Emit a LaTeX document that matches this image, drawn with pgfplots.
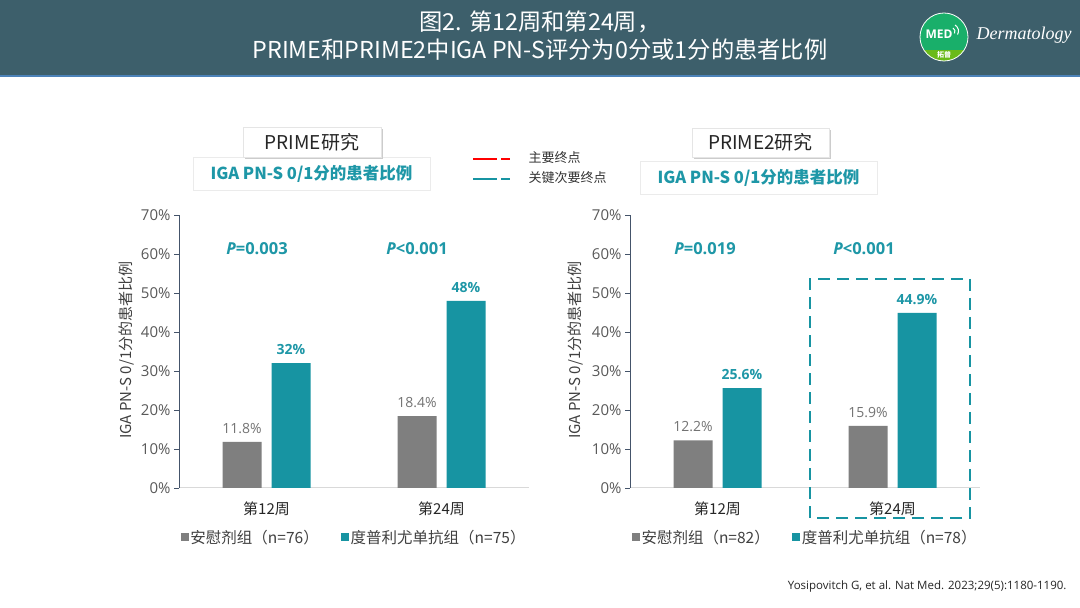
\documentclass[border=0pt]{standalone}
\usepackage{fontspec}
\setmainfont{Noto Sans CJK SC}
\newfontfamily\os{Open Sans}
\newfontfamily\serifit{Liberation Serif}
\usepackage{pgfplots}
\pgfplotsset{compat=1.18}
\definecolor{teal1}{HTML}{1794A2}
\definecolor{teal2}{HTML}{1E97A7}
\definecolor{bargray}{HTML}{7F7F7F}
\definecolor{hdr}{HTML}{3D5F6B}
\definecolor{axblue}{HTML}{44546A}
\definecolor{txt}{HTML}{404040}
\newcommand\fs[1]{\fontsize{#1bp}{#1bp}\selectfont}
\pgfplotsset{myax/.style={
  scale only axis, width=350bp, height=273bp, anchor=south west,
  xmin=-0.5, xmax=1.5, ymin=0, ymax=70,
  xtick={0,1}, xticklabels={第12周,第24周}, x tick style={draw=none},
  ytick={0,10,...,70}, yticklabel={\pgfmathprintnumber{\tick}\%},
  axis x line*=bottom, axis y line*=left,
  x axis line style={draw=black!15, line width=1bp},
  y axis line style={draw=axblue, line width=1bp},
  y tick style={draw=axblue, line width=0.8bp}, tick align=outside, major tick length=5bp,
  yticklabel style={font=\os\fs{15}, text=black!65},
  xticklabel style={font=\fs{15}, text=black!85, yshift=-5bp},
  ylabel style={font=\fs{15}, text=txt, anchor=center},
  /pgf/number format/assume math mode=true,
  ybar, bar width=39bp,
  point meta=explicit symbolic,
  legend style={draw=none, fill=none, legend columns=2, font=\fs{15.5}, text=txt,
    at={(0.5,-0.18)}, anchor=center,
    /tikz/every even column/.append style={column sep=20bp}},
  legend image code/.code={\fill[##1] (0bp,-4bp) rectangle (8bp,4bp);},
  clip=false,
}}
\begin{document}
\begin{tikzpicture}[x=1bp,y=1bp]
\path[use as bounding box, fill=white] (0,0) rectangle (1080,608);
% header
\fill[hdr] (0,533) rectangle (1080,608);
\fill[blue!50!cyan!60!black!70] (0,531) rectangle (1080,533);
\node[text=white, font=\fs{23.3}, align=center] at (540,586) {图2. 第12周和第24周，};
\node[text=white, font=\fs{23.3}, align=center] at (540,558) {PRIME和PRIME2中IGA PN-S评分为0分或1分的患者比例};
% logo
\begin{scope}
\clip (944,571) circle (24);
\fill[teal!70!green!90!white] (920,547) rectangle (968,595);
\fill[green!50!yellow!70!black!90!white] (920,547) rectangle (968,558);
\end{scope}
\draw[white, line width=0.8bp] (944,571) circle (24);
\node[text=white, font=\os\bfseries\fs{12}] at (939,574) {MED};
\draw[white, line width=1bp] (953,580) arc (60:-30:4);
\draw[white, line width=1bp] (955,583) arc (60:-30:7);
\node[text=white, font=\bfseries\fs{7}] at (944,553) {拓普};
\node[text=white, font=\serifit\itshape\fs{18}, anchor=west] at (973,573) {Dermatology};

% left title boxes
\draw[fill=white, draw=black!8] (193,451) rectangle (430,418);
\node[text=teal2, font=\bfseries\fs{16.5}] at (311.5,434.5) {IGA PN-S 0/1分的患者比例};
\fill[black!20] (245,449) rectangle (383,479);
\draw[fill=white, draw=black!10] (243,451) rectangle (381,481);
\node[text=black!85, font=\fs{19}] at (312,466) {PRIME研究};
% right title boxes
\draw[fill=white, draw=black!8] (640,447) rectangle (877,414);
\node[text=teal2, font=\bfseries\fs{16.5}] at (758.5,430.5) {IGA PN-S 0/1分的患者比例};
\fill[black!20] (694,449) rectangle (831,478);
\draw[fill=white, draw=black!10] (692,451) rectangle (829,480);
\node[text=black!85, font=\fs{19}] at (760.5,465.5) {PRIME2研究};
% center legend
\draw[red, line width=2.5bp] (473,449) -- (497,449) (501,449) -- (510,449);
\node[anchor=west, font=\fs{13}, text=black!80] at (525,450) {主要终点};
\draw[teal1, line width=2.5bp] (473,429) -- (497,429) (501,429) -- (510,429);
\node[anchor=west, font=\fs{13}, text=black!80] at (525,430) {关键次要终点};

% left chart
\begin{axis}[myax, at={(179bp,120bp)}, ylabel={IGA PN-S 0/1分的患者比例},
  ylabel style={at={(axis description cs:-0.149,0.505)}}]
\addplot[fill=bargray, draw=none, bar shift=-24.5bp, nodes near coords,
  every node near coord/.append style={font=\os\fs{14}, text=black!55, yshift=5bp}]
  coordinates {(0,11.8)[11.8\%] (1,18.4)[18.4\%]};
\addlegendentry{安慰剂组（n=76）}
\addplot[fill=teal1, draw=none, bar shift=24.5bp, nodes near coords,
  every node near coord/.append style={font=\os\bfseries\fs{14}, text=teal2, yshift=5bp}]
  coordinates {(0,32)[32\%] (1,48)[48\%]};
\addlegendentry{度普利尤单抗组（n=75）}
\end{axis}

% right chart
\begin{axis}[myax, at={(630bp,120bp)}, ylabel={IGA PN-S 0/1分的患者比例},
  ylabel style={at={(axis description cs:-0.157,0.505)}}]
\addplot[fill=bargray, draw=none, bar shift=-24.5bp, nodes near coords,
  every node near coord/.append style={font=\os\fs{14}, text=black!55, yshift=5bp}]
  coordinates {(0,12.2)[12.2\%] (1,15.9)[15.9\%]};
\addlegendentry{安慰剂组（n=82）}
\addplot[fill=teal1, draw=none, bar shift=24.5bp, nodes near coords,
  every node near coord/.append style={font=\os\bfseries\fs{14}, text=teal2, yshift=5bp}]
  coordinates {(0,25.6)[25.6\%] (1,44.9)[44.9\%]};
\addlegendentry{度普利尤单抗组（n=78）}
\end{axis}

% p values
\node[text=teal2, font=\os\bfseries\fs{16.5}] at (257,359) {{\itshape P}=0.003};
\node[text=teal2, font=\os\bfseries\fs{16.5}] at (417,359) {{\itshape P}<0.001};
\node[text=teal2, font=\os\bfseries\fs{16.5}] at (705,359) {{\itshape P}=0.019};
\node[text=teal2, font=\os\bfseries\fs{16.5}] at (864,359) {{\itshape P}<0.001};
% dashed highlight box
\draw[teal1, line width=2.5bp, dash pattern=on 12bp off 7bp] (810,90) rectangle (970,329);
% citation
\node[anchor=east, font=\os\fs{11.5}, text=black!85] at (1070,21) {Yosipovitch G, et al. Nat Med. 2023;29(5):1180-1190.};
\end{tikzpicture}
\end{document}
